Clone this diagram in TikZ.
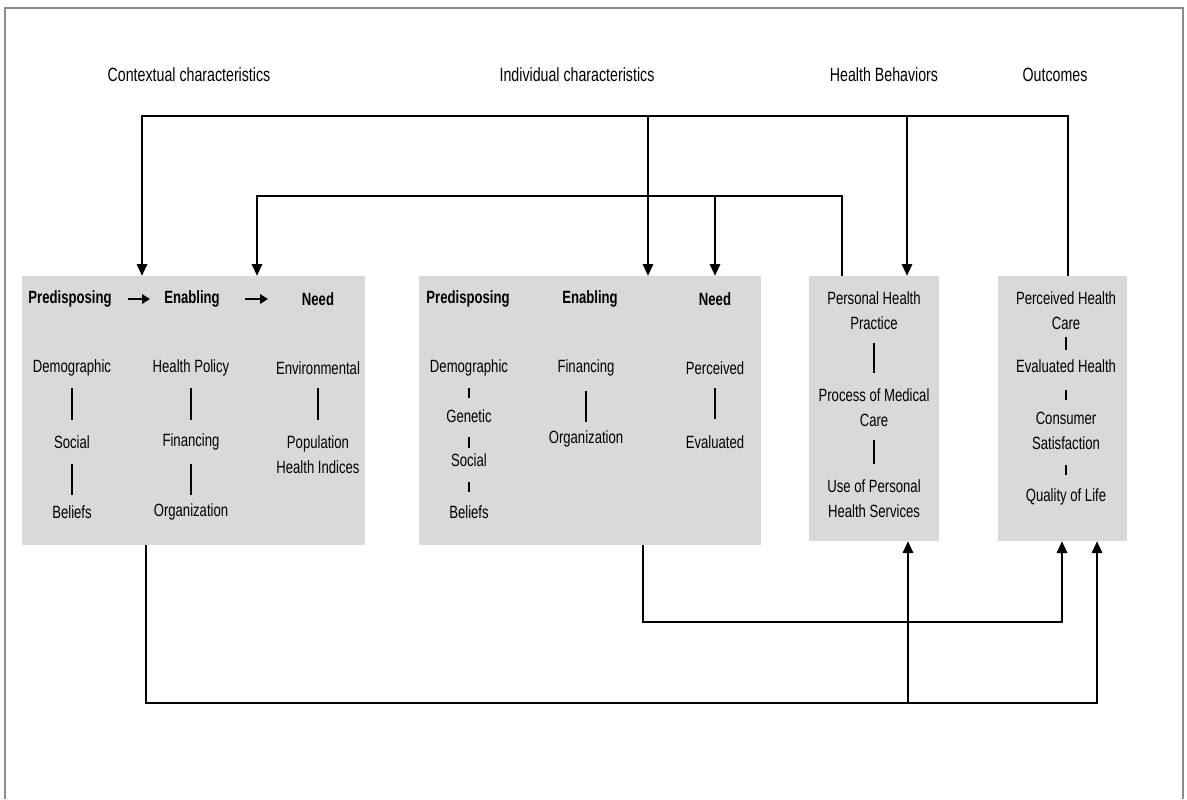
\documentclass[tikz,border=0pt]{standalone}
\usepackage{fontspec}
\setmainfont{Liberation Sans}[FakeStretch=0.74]
\usetikzlibrary{arrows.meta}
\definecolor{boxgray}{RGB}{217,217,217}
\definecolor{framegray}{RGB}{140,140,140}
\begin{document}
\begin{tikzpicture}[x=0.75pt,y=-0.75pt,
  box/.style={fill=boxgray, draw=none, inner sep=0pt, outer sep=0pt},
  txt/.style={font=\fontsize{13.3}{18.75}\selectfont, align=center, inner sep=0pt},
  hdr/.style={font=\bfseries\fontsize{13.3}{15}\selectfont, inner sep=0pt},
  toplab/.style={font=\fontsize{14.4}{16}\selectfont, inner sep=0pt},
  conn/.style={line width=2.2pt},
  arr/.style={conn, -{Triangle[length=9pt,width=7.5pt]}},
  harr/.style={line width=2pt, -{Triangle[length=6pt,width=7pt]}},
  bar/.style 2 args={line width=1.5pt, shorten <=#1, shorten >=#2},
  ]
\useasboundingbox (0,0) rectangle (1187,799);
% frame
\draw[framegray, line width=1.6pt] (5,799) -- (5,8) -- (1183,8) -- (1183,799);

% top labels
\node[toplab] (lc) at (189,75) {Contextual characteristics};
\node[toplab] (li) at (577,75) {Individual characteristics};
\node[toplab] (lh) at (884,75) {Health Behaviors};
\node[toplab] (lo) at (1055,75) {Outcomes};

% boxes
\node[box, minimum width=257.25pt, minimum height=201.75pt] (b1) at (193.5,410.5) {};
\node[box, minimum width=256.5pt, minimum height=201.75pt] (b2) at (590,410.5) {};
\node[box, minimum width=97.5pt, minimum height=198.75pt] (b3) at (874,408.5) {};
\node[box, minimum width=96.75pt, minimum height=198.75pt] (b4) at (1062.5,408.5) {};

% box 1 contents
\node[hdr] (hp1) at (70,299) {Predisposing};
\node[hdr] (he1) at (192,299) {Enabling};
\node[hdr] (hn1) at (318,299) {Need};
\draw[harr, shorten <=43.5pt, shorten >=31.5pt] (hp1.center) -- (he1.center);
\draw[harr, shorten <=39.75pt, shorten >=37.5pt] (he1.center) -- (hn1.center);

\node[txt] (dem1) at (72,368) {Demographic};
\node[txt] (soc1) at (72,442) {Social};
\node[txt] (bel1) at (72,512) {Beliefs};
\draw[bar={15pt}{16.5pt}] (dem1.center) -- (soc1.center);
\draw[bar={16.5pt}{12.75pt}] (soc1.center) -- (bel1.center);

\node[txt] (hpo1) at (191,368) {Health Policy};
\node[txt] (fin1) at (191,442) {Financing};
\node[txt] (org1) at (191,512) {Organization};
\draw[bar={15pt}{16.5pt}] (hpo1.center) -- (fin1.center);
\draw[bar={16.5pt}{12.75pt}] (fin1.center) -- (org1.center);

\node[txt] (env1) at (318,368) {Environmental};
\node[txt] (pop1) at (318,455) {Population\\Health Indices};
\draw[bar={15pt}{26.25pt}] (env1.center) -- (pop1.center);

% box 2 contents
\node[hdr] (hp2) at (468,299) {Predisposing};
\node[hdr] (he2) at (590,299) {Enabling};
\node[hdr] (hn2) at (715,299) {Need};

\node[txt] (dem2) at (469,368) {Demographic};
\node[txt] (gen2) at (469,416) {Genetic};
\node[txt] (soc2) at (469,460) {Social};
\node[txt] (bel2) at (469,512) {Beliefs};
\draw[bar={15pt}{13.5pt}] (dem2.center) -- (gen2.center);
\draw[bar={15.75pt}{9pt}] (gen2.center) -- (soc2.center);
\draw[bar={16.5pt}{15pt}] (soc2.center) -- (bel2.center);

\node[txt] (fin2) at (586,368) {Financing};
\node[txt] (org2) at (586,439) {Organization};
\draw[bar={17.25pt}{12.75pt}] (fin2.center) -- (org2.center);

\node[txt] (per2) at (715,368) {Perceived};
\node[txt] (eva2) at (715,442) {Evaluated};
\draw[bar={15pt}{17.25pt}] (per2.center) -- (eva2.center);

% box 3 contents
\node[txt] (php3) at (874,310.5) {Personal Health\\Practice};
\node[txt] (pmc3) at (874,407.5) {Process of Medical\\Care};
\node[txt] (uph3) at (874,499) {Use of Personal\\Health Services};
\draw[bar={24.4pt}{25.9pt}] (php3.center) -- (pmc3.center);
\draw[bar={24.4pt}{26.25pt}] (pmc3.center) -- (uph3.center);

% box 4 contents
\node[txt] (phc4) at (1066,310.5) {Perceived Health\\Care};
\node[txt] (eh4) at (1066,366) {Evaluated Health};
\node[txt] (cs4) at (1066,430.5) {Consumer\\Satisfaction};
\node[txt] (ql4) at (1066,497) {Quality of Life};
\draw[bar={19.9pt}{12pt}] (phc4.center) -- (eh4.center);
\draw[bar={18pt}{22.9pt}] (eh4.center) -- (cs4.center);
\draw[bar={25.9pt}{16.5pt}] (cs4.center) -- (ql4.center);

% bus coordinates
\coordinate (topL) at (142,116);
\coordinate (topC) at (648,116);
\coordinate (topF) at (907,116);
\coordinate (topR) at (1068,116);
\coordinate (secL) at (257,196);
\coordinate (secD) at (715,196);
\coordinate (secR) at (842,196);
\coordinate (inL) at (643,622);
\coordinate (inR) at (1062,622);
\coordinate (botL) at (146,703);
\coordinate (botJ) at (908,703);
\coordinate (botR) at (1097,703);

% top feedback bus
\draw[arr] (b4.north -| topR) |- (topL) -- (b1.north -| topL);
\draw[arr] (topC) -- (b2.north -| topC);
\draw[arr] (topF) -- (b3.north -| topF);
% second bus
\draw[arr] (b3.north -| secR) |- (secL) -- (b1.north -| secL);
\draw[arr] (secD) -- (b2.north -| secD);
% inner bottom
\draw[arr] (b2.south -| inL) |- (inR) -- (b4.south -| inR);
% outer bottom
\draw[arr] (b1.south -| botL) |- (botR) -- (b4.south -| botR);
\draw[arr] (botJ) -- (b3.south -| botJ);
\end{tikzpicture}
\end{document}
